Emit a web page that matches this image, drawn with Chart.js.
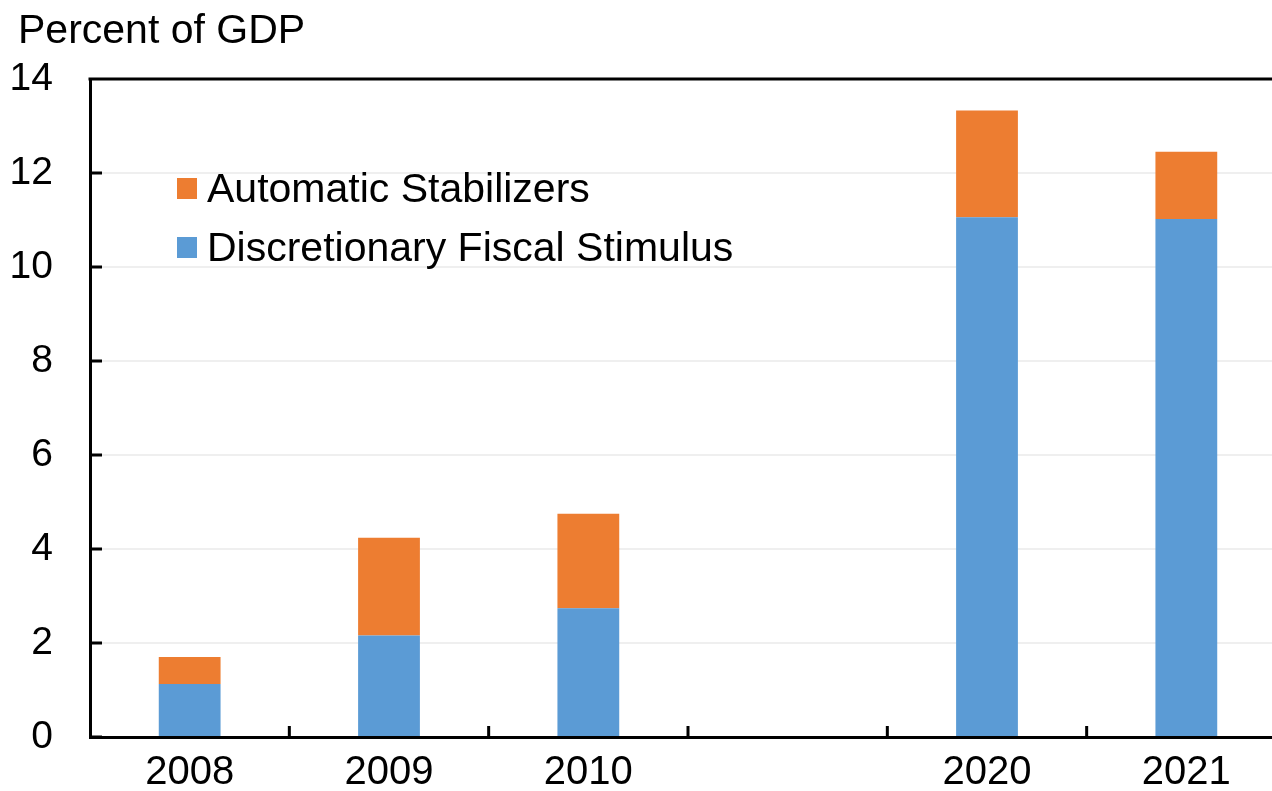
<!DOCTYPE html>
<html>
<head>
<meta charset="utf-8">
<script src="https://cdn.jsdelivr.net/npm/chart.js@4/dist/chart.umd.min.js"></script>
<style>
  html, body { margin: 0; padding: 0; background: #fff; overflow: hidden; }
  #clip { position: relative; width: 1272px; height: 791px; overflow: hidden; }
  #wrap { position: absolute; left: 0; top: 0; width: 1290px; height: 791px; }
</style>
</head>
<body>
<div id="clip"><div id="wrap"><canvas id="chart"></canvas></div></div>
<script>
// Fiscal support, percent of GDP
const categories = ['2008', '2009', '2010', '', '2020', '2021'];
const discretionaryStimulus = [1.13, 2.16, 2.74, null, 11.06, 11.02];
const automaticStabilizers = [0.57, 2.08, 2.01, null, 2.27, 1.43];
const yAxisMin = 0;
const yAxisMax = 14;
const yAxisStep = 2;
const unitLabel = 'Percent of GDP';

const FONT = "'Liberation Sans', Arial, sans-serif";
const BLUE = '#5B9BD5';
const ORANGE = '#ED7D31';

// Axis title in the upper-left corner
const unitTitle = {
  id: 'unitTitle',
  afterDraw(chart) {
    const ctx = chart.ctx;
    ctx.save();
    ctx.fillStyle = '#000';
    ctx.font = '41px ' + FONT;
    ctx.textAlign = 'left';
    ctx.textBaseline = 'alphabetic';
    ctx.fillText(unitLabel, 18, 43);
    ctx.restore();
  }
};

// Frame top edge and short inward tick marks on both axes
const innerTicks = {
  id: 'innerTicks',
  afterDraw(chart) {
    const ctx = chart.ctx;
    const xs = chart.scales.x, ys = chart.scales.y;
    const area = chart.chartArea;
    ctx.save();
    ctx.strokeStyle = '#000';
    ctx.lineWidth = 3;
    ctx.beginPath();
    ctx.moveTo(area.left - 1.5, area.top);
    ctx.lineTo(area.right, area.top);
    for (let i = 1; i <= categories.length; i++) {
      const x = (xs.getPixelForValue(i - 1) + xs.getPixelForValue(i)) / 2;
      ctx.moveTo(x, area.bottom);
      ctx.lineTo(x, area.bottom - 11);
    }
    ys.ticks.forEach(t => {
      const y = ys.getPixelForValue(t.value);
      ctx.moveTo(area.left, y);
      ctx.lineTo(area.left + 12, y);
    });
    ctx.stroke();
    ctx.restore();
  }
};

// Legend placed inside the plot, stacked top segment first
const insideLegend = {
  id: 'insideLegend',
  afterDraw(chart) {
    const ctx = chart.ctx;
    const items = chart.data.datasets.slice().reverse();
    ctx.save();
    ctx.font = '41px ' + FONT;
    ctx.textAlign = 'left';
    ctx.textBaseline = 'alphabetic';
    items.forEach((ds, i) => {
      const cy = 188 + i * 59;
      ctx.fillStyle = ds.backgroundColor;
      ctx.fillRect(177, cy - 10, 20, 21);
      ctx.fillStyle = '#000';
      ctx.fillText(ds.label, 207, cy + 14);
    });
    ctx.restore();
  }
};

new Chart(document.getElementById('chart'), {
  type: 'bar',
  data: {
    labels: categories,
    datasets: [
      {
        label: 'Discretionary Fiscal Stimulus',
        data: discretionaryStimulus,
        backgroundColor: BLUE,
        borderWidth: 0,
        barPercentage: 0.31,
        categoryPercentage: 1
      },
      {
        label: 'Automatic Stabilizers',
        data: automaticStabilizers,
        backgroundColor: ORANGE,
        borderWidth: 0,
        barPercentage: 0.31,
        categoryPercentage: 1
      }
    ]
  },
  options: {
    responsive: true,
    maintainAspectRatio: false,
    animation: false,
    layout: { padding: { top: 79, right: 4, left: 0, bottom: 0 } },
    plugins: {
      legend: { display: false },
      tooltip: { enabled: false },
      title: { display: false }
    },
    scales: {
      x: {
        stacked: true,
        offset: true,
        grid: { display: true, drawOnChartArea: false, drawTicks: false, offset: true },
        border: { display: true, color: '#000', width: 3 },
        ticks: { color: '#000', font: { family: FONT, size: 40, lineHeight: 0.875 }, padding: 18.5, maxRotation: 0, autoSkip: false },
        afterFit(scale) { scale.height = 54; }
      },
      y: {
        stacked: true,
        min: yAxisMin,
        max: yAxisMax,
        ticks: { stepSize: yAxisStep, color: '#000', font: { family: FONT, size: 39, lineHeight: 0.8 }, padding: 37 },
        grid: {
          drawTicks: false,
          color: c => (c.tick && c.tick.value === yAxisMax) ? 'rgba(0,0,0,0)' : '#efefef',
          lineWidth: 2
        },
        border: { display: true, color: '#000', width: 3 },
        afterFit(scale) { scale.width = 90; }
      }
    }
  },
  plugins: [unitTitle, innerTicks, insideLegend]
});
</script>
</body>
</html>
